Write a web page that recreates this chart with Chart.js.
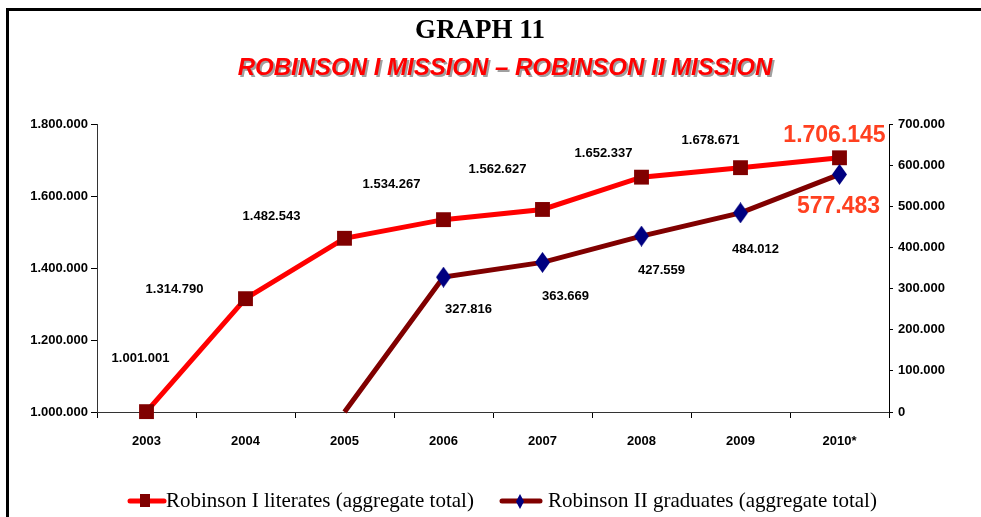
<!DOCTYPE html>
<html>
<head>
<meta charset="utf-8">
<script src="https://cdn.jsdelivr.net/npm/chart.js@4/dist/chart.umd.min.js"></script>
<style>
  html, body { margin: 0; padding: 0; background: #fff; }
  #wrap { width: 981px; height: 517px; position: relative; }
</style>
</head>
<body>
<div id="wrap"><canvas id="graph11" width="981" height="517"></canvas></div>
<script>
// dati
const years = ['2003', '2004', '2005', '2006', '2007', '2008', '2009', '2010*'];
const robinsonI = [1001001, 1314790, 1482543, 1534267, 1562627, 1652337, 1678671, 1706145];
const robinsonII = [null, null, 0, 327816, 363669, 427559, 484012, 577483];
const leftTicks = [1000000, 1200000, 1400000, 1600000, 1800000];
const rightTicks = [0, 100000, 200000, 300000, 400000, 500000, 600000, 700000];

// spostamento delle etichette rispetto ai punti
const offsI = [[-6, -53], [-71, -9], [-73, -22], [-52, -35], [-45, -40], [-38, -24], [-30, -27], [-5, -22]];
const offsII = [null, null, null, [25, 32], [23, 34], [20, 34], [15, 37], [-1, 32]];

const sans = '"Liberation Sans", Arial, sans-serif';
const serif = '"Liberation Serif", "Times New Roman", serif';

function fmt(v) {
    return String(v).replace(/\B(?=(\d{3})+(?!\d))/g, '.');
}

function diamond(w, h, color) {
    const c = document.createElement('canvas');
    c.width = w; c.height = h;
    const g = c.getContext('2d');
    g.fillStyle = color;
    g.beginPath();
    g.moveTo(w / 2, 0); g.lineTo(w, h / 2); g.lineTo(w / 2, h); g.lineTo(0, h / 2);
    g.closePath(); g.fill();
    return c;
}
const diamondImg = diamond(15, 21, '#000080');

const pagePlugin = {
    id: 'page',
    beforeDraw(chart) {
        const ctx = chart.ctx;
        ctx.save();
        ctx.fillStyle = '#fff';
        ctx.fillRect(0, 0, chart.width, chart.height);
        // cornice
        ctx.fillStyle = '#000';
        ctx.fillRect(6, 8, chart.width - 6, 3);
        ctx.fillRect(6, 8, 3, chart.height - 8);
        // titoli
        ctx.textAlign = 'center';
        ctx.textBaseline = 'middle';
        ctx.font = 'bold 27px ' + serif;
        ctx.fillText('GRAPH 11', 480, 31);
        ctx.font = 'italic bold 24px ' + sans;
        ctx.fillStyle = '#a0a0a0';
        ctx.fillText('ROBINSON I MISSION \u2013 ROBINSON II MISSION', 507, 70);
        ctx.fillStyle = '#ff0000';
        ctx.fillText('ROBINSON I MISSION \u2013 ROBINSON II MISSION', 505, 68);
        ctx.restore();
    },
    afterDraw(chart) {
        const ctx = chart.ctx;
        ctx.save();
        // legenda
        const y = 501;
        ctx.lineCap = 'round';
        ctx.lineWidth = 5;
        ctx.strokeStyle = '#ff0000';
        ctx.beginPath(); ctx.moveTo(130, y); ctx.lineTo(164, y); ctx.stroke();
        ctx.fillStyle = '#800000';
        ctx.fillRect(140, y - 7, 10, 13);
        ctx.strokeStyle = '#800000';
        ctx.beginPath(); ctx.moveTo(502, y); ctx.lineTo(540, y); ctx.stroke();
        ctx.drawImage(diamond(8, 15, '#000080'), 516, y - 7);
        ctx.fillStyle = '#000';
        ctx.font = '21px ' + serif;
        ctx.textBaseline = 'middle';
        ctx.textAlign = 'left';
        ctx.fillText('Robinson I literates (aggregate total)', 166, y);
        ctx.fillText('Robinson II graduates (aggregate total)', 548, y);
        ctx.restore();
    }
};

const labelsPlugin = {
    id: 'valueLabels',
    afterDatasetsDraw(chart) {
        const ctx = chart.ctx;
        ctx.save();
        ctx.textAlign = 'center';
        ctx.textBaseline = 'middle';
        const sets = [[0, robinsonI, offsI], [1, robinsonII, offsII]];
        sets.forEach(([idx, values, offs]) => {
            const meta = chart.getDatasetMeta(idx);
            values.forEach((v, i) => {
                if (v === null || !offs[i]) return;
                const pt = meta.data[i];
                const last = i === values.length - 1;
                ctx.font = last ? 'bold 23px ' + sans : 'bold 13px ' + sans;
                ctx.fillStyle = last ? '#ff4020' : '#000';
                ctx.fillText(fmt(v), pt.x + offs[i][0], pt.y + offs[i][1]);
            });
        });
        ctx.restore();
    }
};

const tickFont = { family: sans, size: 13, weight: 'bold' };

new Chart(document.getElementById('graph11'), {
    type: 'line',
    data: {
        labels: years,
        datasets: [{
            label: 'Robinson I literates (aggregate total)',
            data: robinsonI,
            yAxisID: 'y',
            borderColor: '#ff0000',
            borderWidth: 5,
            pointStyle: 'rect',
            pointRadius: 10.5,
            pointBackgroundColor: '#800000',
            pointBorderColor: '#800000',
            pointBorderWidth: 0,
            tension: 0,
            clip: false,
            order: 1
        }, {
            label: 'Robinson II graduates (aggregate total)',
            data: robinsonII,
            yAxisID: 'y1',
            borderColor: '#800000',
            borderWidth: 5,
            pointStyle: diamondImg,
            pointRadius: [0, 0, 0, 10, 10, 10, 10, 10],
            tension: 0,
            clip: false,
            order: 0
        }]
    },
    options: {
        responsive: false,
        animation: false,
        events: [],
        layout: { padding: { top: 124, left: 0, right: 0, bottom: 0 } },
        plugins: {
            legend: { display: false },
            title: { display: false },
            tooltip: { enabled: false }
        },
        scales: {
            x: {
                offset: true,
                grid: { drawOnChartArea: false, offset: true, tickLength: 6, color: '#000' },
                border: { display: true, color: '#333', width: 1 },
                ticks: { color: '#000', font: tickFont, padding: 16, maxRotation: 0 },
                afterFit(scale) { scale.height = 105; }
            },
            y: {
                position: 'left',
                min: leftTicks[0],
                max: leftTicks[leftTicks.length - 1],
                afterBuildTicks(scale) { scale.ticks = leftTicks.map(v => ({ value: v })); },
                grid: { drawOnChartArea: false, tickLength: 6, color: '#000' },
                border: { display: true, color: '#333', width: 1 },
                ticks: { color: '#000', font: tickFont, padding: 3, callback: v => fmt(v) },
                afterFit(scale) { scale.width = 97; }
            },
            y1: {
                position: 'right',
                min: 0,
                max: 700000,
                afterBuildTicks(scale) { scale.ticks = rightTicks.map(v => ({ value: v })); },
                grid: { drawOnChartArea: false, tickLength: 4, color: '#000' },
                border: { display: true, color: '#000', width: 1 },
                ticks: { color: '#000', font: tickFont, padding: 5, callback: v => fmt(v) },
                afterFit(scale) { scale.width = 92; }
            }
        }
    },
    plugins: [pagePlugin, labelsPlugin]
});
</script>
</body>
</html>
